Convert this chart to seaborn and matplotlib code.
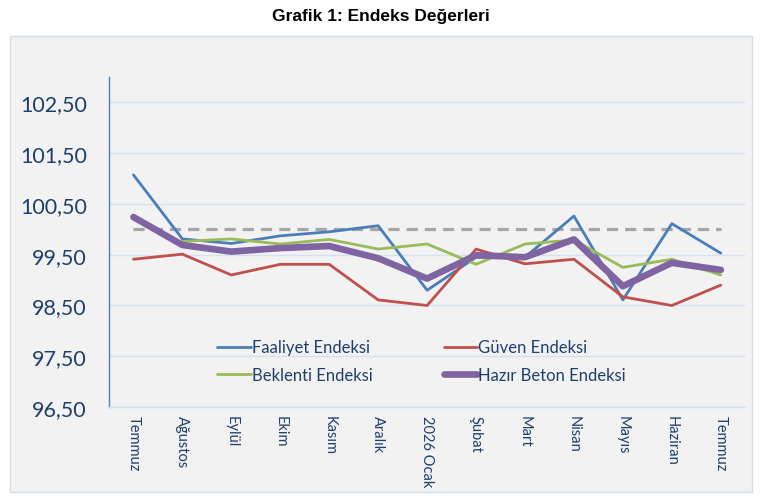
import numpy as np
import pandas as pd
import matplotlib
matplotlib.use('Agg')
import matplotlib.pyplot as plt
import matplotlib.patches as mpatches
from matplotlib.ticker import FuncFormatter, FixedLocator
import seaborn as sns

# Veriler (grafikten okunan yaklaşık değerler)
aylar = ['Temmuz', 'Ağustos', 'Eylül', 'Ekim', 'Kasım', 'Aralık', '2026 Ocak',
         'Şubat', 'Mart', 'Nisan', 'Mayıs', 'Haziran', 'Temmuz']
faaliyet = [101.07, 99.81, 99.72, 99.87, 99.95, 100.07, 98.80,
            99.45, 99.45, 100.26, 98.61, 100.11, 99.53]
guven = [99.41, 99.51, 99.10, 99.31, 99.31, 98.61, 98.50,
         99.61, 99.32, 99.41, 98.67, 98.50, 98.90]
beklenti = [np.nan, 99.76, 99.81, 99.71, 99.80, 99.61, 99.71,
            99.31, 99.71, 99.79, 99.25, 99.41, 99.10]
hazir_beton = [100.24, 99.69, 99.56, 99.63, 99.67, 99.43, 99.03,
               99.49, 99.45, 99.80, 98.88, 99.34, 99.20]
esik = 100.0

sns.set_style('white')
plt.rcParams['font.family'] = ['Lato', 'DejaVu Sans']

yazi_rengi = '#1f3f6b'

fig = plt.figure(figsize=(7.62, 5.02), dpi=100)
# dış çerçeve (eksenlerin arkasında kalsın)
fig.patches.append(mpatches.Rectangle((0.013, 0.018), 0.974, 0.908,
                                      transform=fig.transFigure,
                                      facecolor='#f2f2f2', edgecolor='#d3dde9',
                                      linewidth=1.0, zorder=-5))
fig.text(0.5, 0.968, 'Grafik 1: Endeks Değerleri', ha='center', va='center',
         fontsize=12.5, fontweight='bold', family='Liberation Sans', color='black')

ax = fig.add_axes([0.143, 0.187, 0.835, 0.658])
ax.set_facecolor('none')

x = np.arange(len(aylar))
df = pd.DataFrame({'x': x, 'faaliyet': faaliyet, 'guven': guven,
                   'beklenti': beklenti, 'hazir': hazir_beton,
                   'esik': [esik] * len(aylar)})

sns.lineplot(data=df, x='x', y='esik', ax=ax, color='#a6a6a6', linewidth=2.3,
             linestyle=(0, (3.5, 2.2)), zorder=2)
sns.lineplot(data=df, x='x', y='faaliyet', ax=ax, color='#4a7ebb', linewidth=2,
             label='Faaliyet Endeksi', zorder=3)
sns.lineplot(data=df, x='x', y='beklenti', ax=ax, color='#9bbb59', linewidth=2,
             label='Beklenti Endeksi', zorder=3)
sns.lineplot(data=df, x='x', y='guven', ax=ax, color='#c0504d', linewidth=2,
             label='Güven Endeksi', zorder=3)
sns.lineplot(data=df, x='x', y='hazir', ax=ax, color='#8064a2', linewidth=4.8,
             label='Hazır Beton Endeksi', zorder=4, solid_capstyle='round')

ax.set_xlim(-0.5, len(aylar) - 0.5)
ax.set_ylim(96.5, 103.0)
ax.set_yticks(np.arange(96.5, 103.0, 1.0))
ax.yaxis.set_major_formatter(FuncFormatter(lambda v, p: f'{v:.2f}'.replace('.', ',')))
ax.grid(axis='y', color='#d6e1ef', linewidth=1)
ax.set_axisbelow(True)

ax.set_xticks(x)
ax.set_xticklabels(aylar, rotation=270, va='top', ha='center')
ax.xaxis.set_minor_locator(FixedLocator(np.arange(-0.5, len(aylar), 1.0)))
ax.tick_params(axis='x', which='major', length=0, pad=6, labelsize=10.5,
               labelcolor=yazi_rengi)
ax.tick_params(axis='x', which='minor', length=5, color='#d9d9d9', direction='out')
ax.tick_params(axis='y', length=0, labelsize=15.5, labelcolor=yazi_rengi, pad=16)
ax.set_xlabel('')
ax.set_ylabel('')

for s in ['top', 'right']:
    ax.spines[s].set_visible(False)
ax.spines['left'].set_color('#4a7ebb')
ax.spines['left'].set_linewidth(1)
ax.spines['bottom'].set_color('#d6e1ef')
ax.spines['bottom'].set_linewidth(1)

leg = ax.legend(loc='upper left', bbox_to_anchor=(0.16, 0.225), ncol=2,
                frameon=False, fontsize=12, handlelength=2.0, handletextpad=0.05,
                columnspacing=4.3, labelspacing=0.7, borderaxespad=0)
for t in leg.get_texts():
    t.set_color(yazi_rengi)

fig.savefig('out.png', dpi=100, facecolor='white')
